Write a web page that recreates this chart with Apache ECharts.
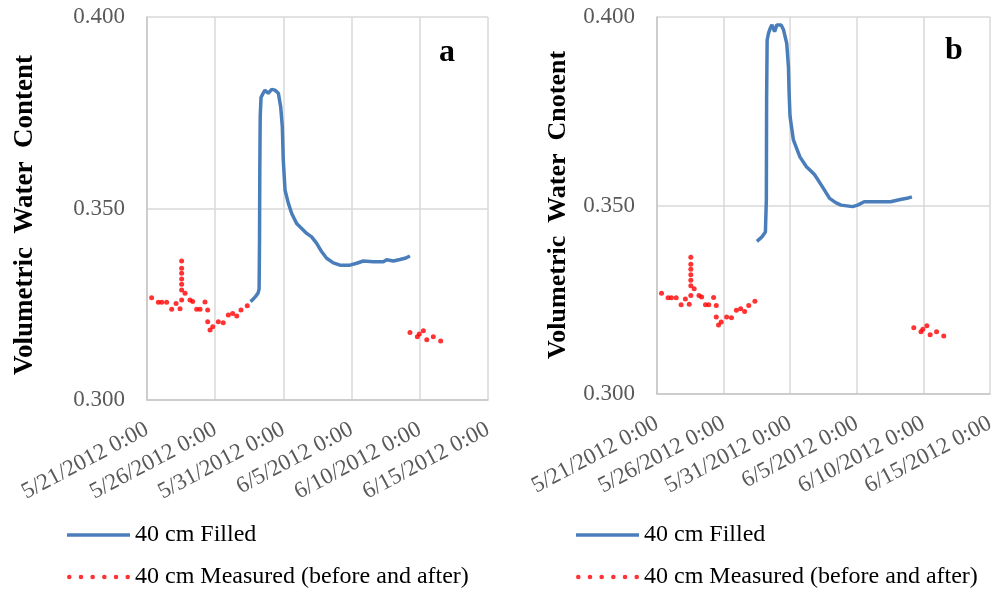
<!DOCTYPE html>
<html>
<head>
<meta charset="utf-8">
<script src="https://cdn.jsdelivr.net/npm/echarts@6/dist/echarts.min.js"></script>
<style>
  html, body { margin: 0; padding: 0; background: #ffffff; }
  #chart { width: 998px; height: 590px; }
</style>
</head>
<body>
<div id="chart"></div>
<script>
// X positions are days since 5/21/2012 0:00.
const tickLabels = ['5/21/2012 0:00', '5/26/2012 0:00', '5/31/2012 0:00', '6/5/2012 0:00', '6/10/2012 0:00', '6/15/2012 0:00'];
const seriesNames = ['40 cm Filled', '40 cm Measured (before and after)'];

// Measured water content before and after the gap (same readings in both panels)
const measuredDays = [
  0.34, 0.83, 1.08, 1.44, 1.81, 2.13, 2.42, 2.54, 2.54, 2.54, 2.54, 2.54, 2.54, 2.54,
  2.79, 3.15, 3.35, 3.64, 3.89, 4.25, 4.45, 4.45, 4.62, 4.82, 5.23, 5.59, 5.96, 6.28,
  6.58, 6.89, 7.35,
  19.28, 19.82, 19.96, 20.26, 20.51, 20.99, 21.53
];
const measuredValues = [
  0.3267, 0.3255, 0.3255, 0.3255, 0.3237, 0.3252, 0.3238, 0.3261, 0.3287, 0.3302, 0.3316, 0.3331, 0.3344, 0.3363,
  0.3279, 0.3261, 0.3257, 0.3237, 0.3237, 0.3256, 0.3235, 0.3204, 0.3183, 0.3191, 0.3204, 0.3202, 0.3222, 0.3226,
  0.3219, 0.3235, 0.3246,
  0.3176, 0.3165, 0.3172, 0.3181, 0.3157, 0.3165, 0.3154
];

// Panel a: filled series
const filledDaysA = [
  7.59, 7.75, 7.95, 8.14, 8.22, 8.25, 8.27, 8.30, 8.36, 8.50, 8.65, 8.89, 9.14, 9.38, 9.63,
  9.80, 9.92, 9.99, 10.12, 10.36, 10.61, 10.97, 11.34, 11.71, 12.07, 12.44, 12.81, 13.17,
  13.66, 14.15, 14.88, 15.37, 15.86, 16.59, 17.33, 17.57, 18.06, 18.55, 18.91, 19.28
];
const filledValuesA = [
  0.3257, 0.3262, 0.3270, 0.3279, 0.3290, 0.3420, 0.3600, 0.3740, 0.3790, 0.3800, 0.3809, 0.3801, 0.3811, 0.3809, 0.3801,
  0.3766, 0.3714, 0.3627, 0.3548, 0.3514, 0.3487, 0.3461, 0.3448, 0.3435, 0.3426, 0.3409, 0.3387, 0.3370,
  0.3358, 0.3352, 0.3352, 0.3357, 0.3363, 0.3361, 0.3361, 0.3366, 0.3363, 0.3367, 0.3370, 0.3376
];

// Panel b: filled series
const filledDaysB = [
  7.50, 7.64, 7.86, 8.14, 8.21, 8.23, 8.27, 8.38, 8.50, 8.63, 8.83, 9.00, 9.32, 9.50, 9.74,
  9.87, 9.92, 9.99, 10.24, 10.73, 11.22, 11.60, 11.85, 12.34, 12.96, 13.45, 13.82, 14.69,
  15.06, 15.56, 16.54, 17.53, 18.27, 18.77, 19.14
];
const filledValuesB = [
  0.3405, 0.3410, 0.3416, 0.3430, 0.3515, 0.3780, 0.3939, 0.3958, 0.3970, 0.3979, 0.3961, 0.3979, 0.3979, 0.3966, 0.3930,
  0.3868, 0.3798, 0.3736, 0.3674, 0.3629, 0.3603, 0.3590, 0.3581, 0.3554, 0.3519, 0.3507, 0.3501, 0.3497,
  0.3501, 0.3510, 0.3510, 0.3510, 0.3516, 0.3519, 0.3523
];

const zip = (xs, ys) => xs.map((x, i) => [x, ys[i]]);

const SERIF = '"Liberation Serif", "Times New Roman", serif';
const BLUE = '#4a7ebb';
const RED = '#ff0000';
const GRID_LINE = '#d9d9d9';
const LABEL_GREY = '#595959';

// legend samples: a solid bar and six round dots
const lineIcon = 'path://M0,0H62V3.5H0Z';
const dotsIcon = 'path://' + [0, 1, 2, 3, 4, 5].map(i => {
  const cx = 2.2 + i * 11.2;
  return `M${cx - 2.2},2.2a2.2,2.2 0 1,0 4.4,0a2.2,2.2 0 1,0 -4.4,0Z`;
}).join('');

function makeXAxis(gridIndex) {
  return {
    type: 'value', gridIndex, min: 0, max: 25, interval: 5,
    axisLine: { show: true, lineStyle: { color: '#c6c6c6', width: 1.5 } },
    axisTick: { show: false },
    splitLine: { show: true, lineStyle: { color: GRID_LINE, width: 1.5 } },
    axisLabel: {
      rotate: 28, margin: 28, color: LABEL_GREY, fontFamily: SERIF, fontSize: 23,
      formatter: v => tickLabels[Math.round(v / 5)]
    }
  };
}
function makeYAxis(gridIndex) {
  return {
    type: 'value', gridIndex, min: 0.3, max: 0.4, interval: 0.05,
    axisLine: { show: true, lineStyle: { color: '#c6c6c6', width: 1.5 } },
    axisTick: { show: false },
    splitLine: { show: true, lineStyle: { color: GRID_LINE, width: 1.5 } },
    axisLabel: {
      margin: 22, color: LABEL_GREY, fontFamily: SERIF, fontSize: 23,
      formatter: v => v.toFixed(3)
    }
  };
}
// one legend entry per row, so each row can be placed on its own
function makeLegend(left, top, idx) {
  const entry = idx === 0
    ? { name: seriesNames[0], icon: lineIcon, itemStyle: { color: BLUE } }
    : { name: seriesNames[1], icon: dotsIcon, itemStyle: { color: RED } };
  return {
    orient: 'horizontal', left, top, padding: 0, itemWidth: 63, itemHeight: 14,
    textStyle: { fontFamily: SERIF, fontSize: 24, color: '#000000' },
    data: [entry],
    selectedMode: false
  };
}
function filledSeries(idx, data) {
  return {
    name: seriesNames[0], type: 'line', xAxisIndex: idx, yAxisIndex: idx,
    data, symbol: 'none', smooth: false,
    lineStyle: { color: BLUE, width: 3.5 }, itemStyle: { color: BLUE },
    z: 3
  };
}
function measuredSeries(idx) {
  return {
    name: seriesNames[1], type: 'scatter', xAxisIndex: idx, yAxisIndex: idx,
    data: zip(measuredDays, measuredValues), symbol: 'circle', symbolSize: 5,
    itemStyle: { color: RED }, z: 4
  };
}

const chart = echarts.init(document.getElementById('chart'), null, { renderer: 'canvas' });
chart.setOption({
  backgroundColor: '#ffffff',
  animation: false,
  grid: [
    { left: 147, right: 510, top: 17, height: 383 },
    { left: 657, right: 4, top: 17, height: 377 }
  ],
  xAxis: [makeXAxis(0), makeXAxis(1)],
  yAxis: [makeYAxis(0), makeYAxis(1)],
  legend: [
    makeLegend(67, 523, 0), makeLegend(67, 565, 1),
    makeLegend(576, 523, 0), makeLegend(576, 565, 1)
  ],
  series: [
    filledSeries(0, zip(filledDaysA, filledValuesA)),
    measuredSeries(0),
    filledSeries(1, zip(filledDaysB, filledValuesB)),
    measuredSeries(1)
  ],
  graphic: [
    { type: 'text', x: 25, y: 215, rotation: Math.PI / 2,
      style: { text: 'Volumetric  Water  Content', align: 'center', verticalAlign: 'middle',
               font: 'bold 27px ' + SERIF, fill: '#000000' } },
    { type: 'text', x: 558, y: 205, rotation: Math.PI / 2,
      style: { text: 'Volumetric  Water  Cnotent', align: 'center', verticalAlign: 'middle',
               font: 'bold 26px ' + SERIF, fill: '#000000' } },
    { type: 'text', x: 447, y: 53,
      style: { text: 'a', align: 'center', verticalAlign: 'middle', font: 'bold 32px ' + SERIF, fill: '#000000' } },
    { type: 'text', x: 954, y: 51,
      style: { text: 'b', align: 'center', verticalAlign: 'middle', font: 'bold 32px ' + SERIF, fill: '#000000' } }
  ]
});
</script>
</body>
</html>
